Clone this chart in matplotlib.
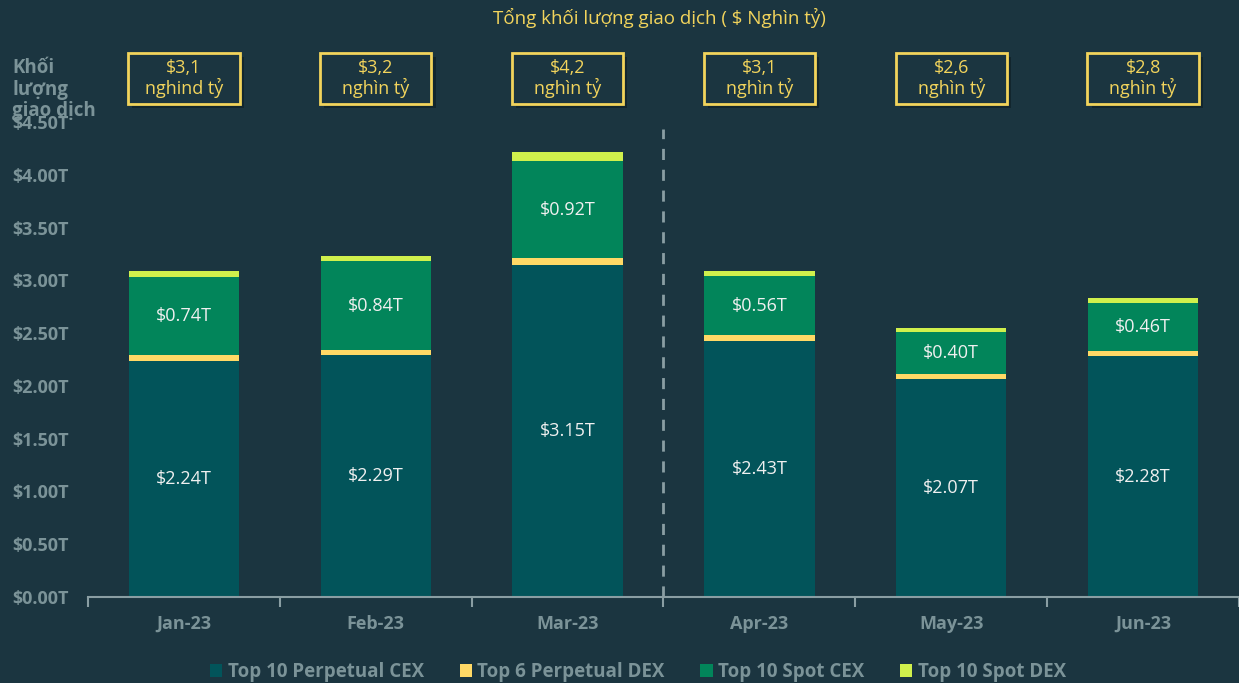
import matplotlib.pyplot as plt
from matplotlib.patches import Rectangle
from matplotlib.transforms import blended_transform_factory
from matplotlib import patheffects as pe

plt.rcParams['font.family'] = ['Open Sans', 'DejaVu Sans']

months = ['Jan-23', 'Feb-23', 'Mar-23', 'Apr-23', 'May-23', 'Jun-23']
perp_cex = [2.24, 2.29, 3.15, 2.43, 2.07, 2.28]
perp_dex = [0.05, 0.05, 0.06, 0.05, 0.04, 0.05]
spot_cex = [0.74, 0.84, 0.92, 0.56, 0.40, 0.46]
spot_dex = [0.06, 0.05, 0.09, 0.05, 0.04, 0.04]
totals = ['$3,1\nnghind tỷ', '$3,2\nnghìn tỷ', '$4,2\nnghìn tỷ',
          '$3,1\nnghìn tỷ', '$2,6\nnghìn tỷ', '$2,8\nnghìn tỷ']
series_names = ['Top 10 Perpetual CEX', 'Top 6 Perpetual DEX', 'Top 10 Spot CEX', 'Top 10 Spot DEX']

bg = '#1b3540'
grey = '#7b9398'
gold = '#f2d45c'
colors = ['#02545a', '#ffd966', '#02855a', '#d0f04c']

fig = plt.figure(figsize=(12.39, 6.83), dpi=100, facecolor=bg)
ax = fig.add_axes([88/1239, 1-597/683, 1-88/1239, (597-122)/683])
ax.set_facecolor(bg)

x = range(len(months))
w = 0.575
bottom = [0]*len(months)
bars = []
for vals, c, name in zip([perp_cex, perp_dex, spot_cex, spot_dex], colors, series_names):
    b = ax.bar(x, vals, w, bottom=bottom, color=c, label=name, zorder=2)
    bars.append(b)
    bottom = [b0 + v for b0, v in zip(bottom, vals)]

# value labels inside the two big segments
for i in x:
    ax.text(i, perp_cex[i]/2, f'${perp_cex[i]:.2f}T', ha='center', va='center',
            color='#f0f0f0', fontsize=13, zorder=3)
    mid = perp_cex[i] + perp_dex[i] + spot_cex[i]/2
    ax.text(i, mid, f'${spot_cex[i]:.2f}T', ha='center', va='center',
            color='#f0f0f0', fontsize=13, zorder=3)

ax.axvline(2.5, ymin=0, ymax=4.43/4.5, color='#8a9ea3', lw=2, ls=(0, (4, 3.5)), zorder=1)

ax.set_xlim(-0.5, 5.464)
ax.set_ylim(0, 4.5)
ax.set_yticks([i*0.5 for i in range(10)])
ax.set_yticklabels([f'${i*0.5:.2f}T' for i in range(10)])
ax.set_xticks(list(x))
ax.set_xticklabels(months)
ax.set_xticks([i - 0.5 for i in range(7)], minor=True)
ax.tick_params(axis='x', which='major', length=0, pad=13, labelsize=13, labelcolor=grey)
ax.tick_params(axis='x', which='minor', length=7, width=1.5, color='#8a9ea3', direction='out')
ax.tick_params(axis='y', length=0, pad=14, labelsize=13, labelcolor=grey)
for lab in ax.get_xticklabels() + ax.get_yticklabels():
    lab.set_fontweight('bold')
for s in ['top', 'right', 'left']:
    ax.spines[s].set_visible(False)
ax.spines['bottom'].set_color('#8a9ea3')
ax.spines['bottom'].set_linewidth(1.5)

# total boxes above each bar
trans = blended_transform_factory(ax.transData, fig.transFigure)
bh = 51/683
by = 1 - 104/683
for i, t in zip(x, totals):
    r = Rectangle((i - 0.29, by), 0.58, bh, transform=trans, facecolor=bg,
                  edgecolor=gold, lw=2, clip_on=False, zorder=5)
    r.set_path_effects([pe.SimplePatchShadow(offset=(3, -3), shadow_rgbFace='#0c1c22', alpha=0.6), pe.Normal()])
    fig.add_artist(r)
    fig.text(i, by + bh/2, t, transform=trans, ha='center', va='center',
             color=gold, fontsize=13, linespacing=1.1, zorder=6)

fig.text(0.532, 1-18/683, 'Tổng khối lượng giao dịch ( $ Nghìn tỷ)', ha='center', va='center',
         color=gold, fontsize=13.5)
fig.text(12/1239, 1-58/683, 'Khối\nlượng\ngiao dịch', ha='left', va='top',
         color=grey, fontsize=13.5, fontweight='bold', linespacing=1.1)

leg = fig.legend(handles=bars, labels=series_names, loc='center', ncol=4,
                 bbox_to_anchor=(0.515, 1-672/683), frameon=False,
                 handlelength=0.65, handleheight=0.75, handletextpad=0.3, columnspacing=1.9,
                 prop={'weight': 'bold', 'size': 13.5})
for t in leg.get_texts():
    t.set_color(grey)

fig.savefig('out.png', dpi=100, facecolor=bg)
